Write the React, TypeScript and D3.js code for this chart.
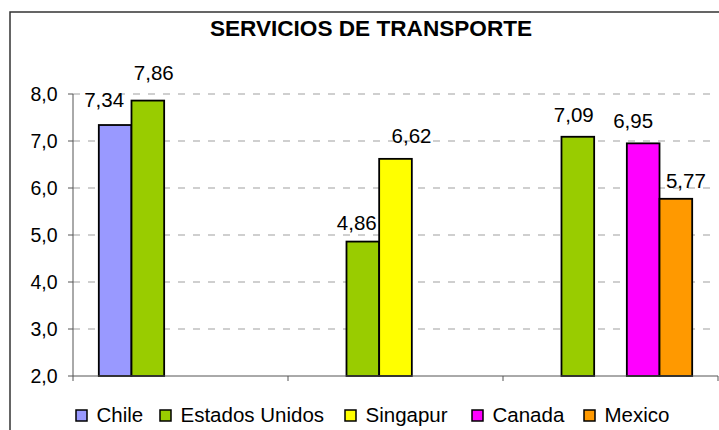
import React from "react";
import * as d3 from "d3";

const groups = ["G1", "G2", "G3"];
const seriesNames = ["Chile", "Estados Unidos", "Singapur", "Canada", "Mexico"];
const chile: (number | null)[] = [7.34, null, null];
const estadosUnidos: (number | null)[] = [7.86, 4.86, 7.09];
const singapur: (number | null)[] = [null, 6.62, null];
const canada: (number | null)[] = [null, null, 6.95];
const mexico: (number | null)[] = [null, null, 5.77];
const yTicks = [2, 3, 4, 5, 6, 7, 8];
const title = "SERVICIOS DE TRANSPORTE";

const seriesValues = [chile, estadosUnidos, singapur, canada, mexico];
const colors = ["#9999FF", "#99CC00", "#FFFF00", "#FF00FF", "#FF9900"];

// label nudges (layout only) [dx, dy] keyed by series index - group index
const labelNudge: Record<string, [number, number]> = {
  "0-0": [-11, -3],
  "1-0": [6, -6],
  "1-1": [-6, 3],
  "2-1": [16, -1],
  "1-2": [-4, 0],
  "3-2": [-10, 0],
  "4-2": [10, 4],
};
const legendX = [76, 160, 345, 472, 584];

const FONT = "'Liberation Sans', Arial, sans-serif";

export default function App() {
  const left = 73, right = 718, top = 94, bottom = 376;
  const x0 = d3.scaleBand<string>().domain(groups).range([left, right]).padding(0);
  const x1 = d3
    .scaleBand<string>()
    .domain(seriesNames)
    .range([0, x0.bandwidth()])
    .paddingInner(0)
    .paddingOuter(0.79);
  const y = d3.scaleLinear().domain([2, 8]).range([bottom, top]);
  const fmt = (v: number, d: number) => v.toFixed(d).replace(".", ",");

  const bars: React.ReactNode[] = [];
  const labels: React.ReactNode[] = [];
  seriesValues.forEach((vals, si) => {
    vals.forEach((v, gi) => {
      if (v == null) return;
      const bx = (x0(groups[gi]) as number) + (x1(seriesNames[si]) as number);
      const bw = x1.bandwidth();
      const by = y(v);
      bars.push(
        <rect
          key={`b${si}-${gi}`}
          x={bx}
          y={by}
          width={bw}
          height={bottom - by}
          fill={colors[si]}
          stroke="#000"
          strokeWidth={1.8}
        />
      );
      const n = labelNudge[`${si}-${gi}`] || [0, 0];
      labels.push(
        <text
          key={`l${si}-${gi}`}
          x={bx + bw / 2 + n[0]}
          y={by - 15 + n[1]}
          textAnchor="middle"
          fontSize={20.5}
          fontFamily={FONT}
          fill="#000"
        >
          {fmt(v, 2)}
        </text>
      );
    });
  });

  const xTickPos = [...groups.map((g) => x0(g) as number), right];

  return (
    <svg
      width={719}
      height={430}
      style={{ position: "absolute", left: 0, top: 0, background: "#fff" }}
    >
      <rect x={0} y={0} width={719} height={430} fill="#fff" />
      <rect x={10} y={12} width={730} height={440} fill="none" stroke="#333" strokeWidth={1.5} />
      <text
        x={371}
        y={36}
        textAnchor="middle"
        fontSize={22.6}
        fontWeight="bold"
        fontFamily={FONT}
        fill="#000"
      >
        {title}
      </text>
      {yTicks
        .filter((t) => t > 2)
        .map((t) => (
          <line
            key={`g${t}`}
            x1={left}
            x2={right}
            y1={y(t)}
            y2={y(t)}
            stroke="#a0a0a0"
            strokeWidth={1.2}
            strokeDasharray="7,8"
          />
        ))}
      {bars}
      <line x1={left} x2={left} y1={top} y2={bottom} stroke="#555" strokeWidth={1} />
      <line x1={left} x2={right} y1={bottom} y2={bottom} stroke="#555" strokeWidth={1} />
      {yTicks.map((t) => (
        <g key={`t${t}`}>
          <line x1={left - 5} x2={left} y1={y(t)} y2={y(t)} stroke="#555" strokeWidth={1} />
          <text
            x={57.5}
            y={y(t) + 7}
            textAnchor="end"
            fontSize={19.5}
            fontFamily={FONT}
            fill="#000"
          >
            {fmt(t, 1)}
          </text>
        </g>
      ))}
      {xTickPos.map((px, i) => (
        <line key={`xt${i}`} x1={px} x2={px} y1={bottom} y2={bottom + 5} stroke="#555" strokeWidth={1} />
      ))}
      {labels}
      {seriesNames.map((name, si) => (
        <g key={`lg${si}`}>
          <rect
            x={legendX[si]}
            y={410}
            width={11}
            height={11}
            fill={colors[si]}
            stroke="#000"
            strokeWidth={1.5}
          />
          <text
            x={legendX[si] + 20.5}
            y={421.5}
            fontSize={20.5}
            fontFamily={FONT}
            fill="#000"
          >
            {name}
          </text>
        </g>
      ))}
    </svg>
  );
}
